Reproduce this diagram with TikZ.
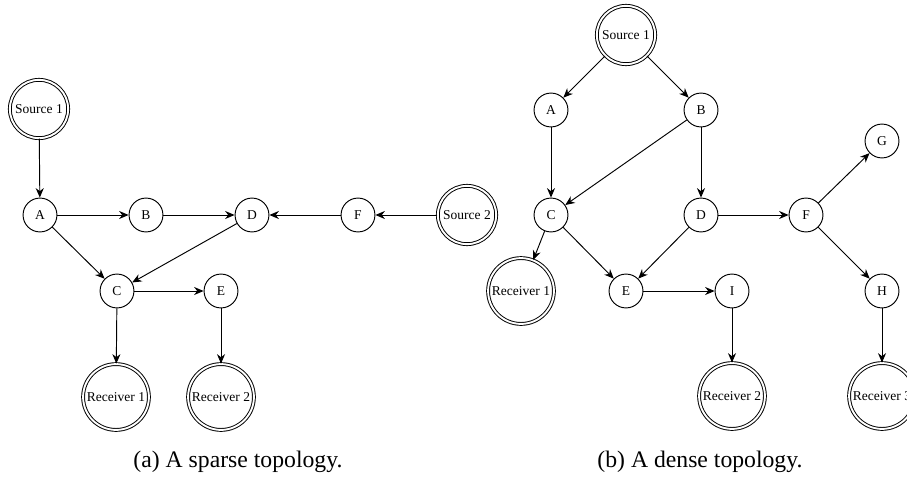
\documentclass[tikz,border=0pt]{standalone}
\usepackage{fontspec}
\setmainfont{Liberation Serif}
\usetikzlibrary{arrows.meta}
\newcommand{\nodetext}{\fontsize{5.7}{6.5}\selectfont}

\begin{document}
\begin{tikzpicture}[x=0.422pt, y=-0.422pt,
  router/.style={circle, draw, minimum size=14.3pt, inner sep=0pt, font=\nodetext},
  endpoint/.style={circle, draw, double, double distance=0.8pt, minimum size=24.6pt, inner sep=1.3pt, font=\nodetext},
  link/.style={-{Stealth[length=4pt, width=3.4pt, inset=1.3pt]}}]
  \useasboundingbox (0,0) rectangle (907,479);

  % (a) sparse topology
  \node[endpoint] (aS1) at (39,109) {Source 1};
  \node[router] (aA) at (40,215) {A};
  \node[router] (aB) at (146,215) {B};
  \node[router] (aD) at (252,215) {D};
  \node[router] (aF) at (358,215) {F};
  \node[endpoint] (aS2) at (467,215) {Source 2};
  \node[router] (aC) at (117,291) {C};
  \node[router] (aE) at (221,291) {E};
  \node[endpoint] (aR1) at (116,397) {Receiver 1};
  \node[endpoint] (aR2) at (221,397) {Receiver 2};

  \draw[link] (aS1) -- (aA);
  \draw[link] (aA) -- (aB);
  \draw[link] (aB) -- (aD);
  \draw[link] (aF) -- (aD);
  \draw[link] (aS2) -- (aF);
  \draw[link] (aA) -- (aC);
  \draw[link] (aD) -- (aC);
  \draw[link] (aC) -- (aE);
  \draw[link] (aC) -- (aR1);
  \draw[link] (aE) -- (aR2);

  % (b) dense topology
  \node[endpoint] (bS1) at (626,35) {Source 1};
  \node[router] (bA) at (551,110) {A};
  \node[router] (bB) at (701,110) {B};
  \node[router] (bC) at (551,215) {C};
  \node[router] (bD) at (701,215) {D};
  \node[router] (bF) at (806,215) {F};
  \node[router] (bG) at (882,141) {G};
  \node[endpoint] (bR1) at (521,291) {Receiver 1};
  \node[router] (bE) at (626,291) {E};
  \node[router] (bI) at (732,291) {I};
  \node[router] (bH) at (882,291) {H};
  \node[endpoint] (bR2) at (732,396) {Receiver 2};
  \node[endpoint] (bR3) at (882,396) {Receiver 3};

  \draw[link] (bS1) -- (bA);
  \draw[link] (bS1) -- (bB);
  \draw[link] (bA) -- (bC);
  \draw[link] (bB) -- (bC);
  \draw[link] (bB) -- (bD);
  \draw[link] (bC) -- (bR1);
  \draw[link] (bC) -- (bE);
  \draw[link] (bD) -- (bE);
  \draw[link] (bD) -- (bF);
  \draw[link] (bE) -- (bI);
  \draw[link] (bF) -- (bG);
  \draw[link] (bF) -- (bH);
  \draw[link] (bI) -- (bR2);
  \draw[link] (bH) -- (bR3);

  % captions
  \node (capa) at (238,462) {(a) A sparse topology.};
  \node (capb) at (700,462) {(b) A dense topology.};
\end{tikzpicture}
\end{document}
